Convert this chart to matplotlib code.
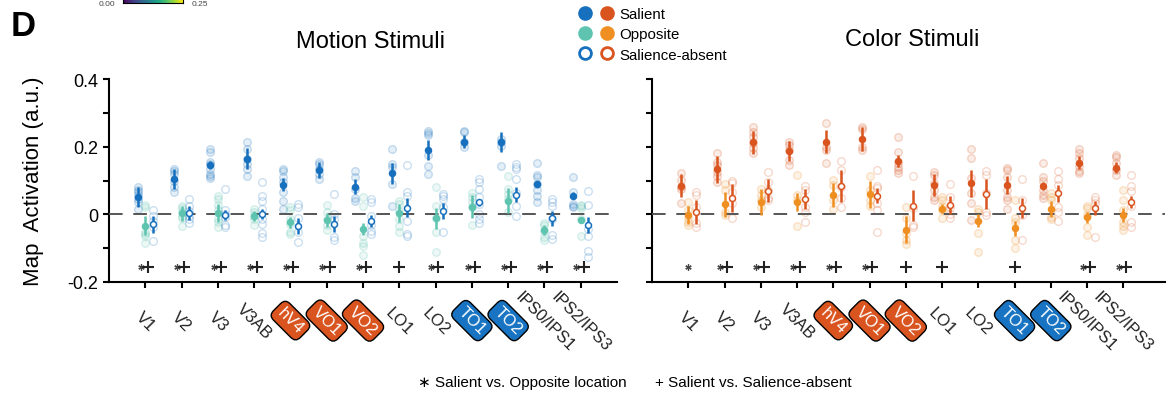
import numpy as np
import matplotlib.pyplot as plt
from matplotlib.lines import Line2D
from matplotlib.legend_handler import HandlerTuple
from matplotlib.transforms import blended_transform_factory

plt.rcParams['font.family'] = ['Liberation Sans', 'DejaVu Sans']

regions = ['V1', 'V2', 'V3', 'V3AB', 'hV4', 'VO1', 'VO2', 'LO1', 'LO2', 'TO1', 'TO2', 'IPS0/IPS1', 'IPS2/IPS3']
color_rois = ['hV4', 'VO1', 'VO2']
motion_rois = ['TO1', 'TO2']

# motion stimuli
mot_sal_mean = [0.052, 0.104, 0.146, 0.165, 0.088, 0.131, 0.082, 0.121, 0.190, 0.215, 0.213, 0.091, 0.055]
mot_sal_sem = [0.030, 0.030, 0.013, 0.032, 0.020, 0.025, 0.022, 0.032, 0.030, 0.020, 0.030, 0.006, 0.010]
mot_sal_subj = [
    [0.080, 0.073, 0.067, 0.057, 0.045, 0.037, 0.016],
    [0.134, 0.129, 0.119, 0.100, 0.080, 0.067],
    [0.193, 0.183, 0.156, 0.149, 0.134, 0.119, 0.112, 0.106],
    [0.215, 0.193, 0.164, 0.149, 0.134, 0.112],
    [0.134, 0.129, 0.110, 0.095, 0.065, 0.040, 0.016],
    [0.156, 0.149, 0.134, 0.119, 0.104],
    [0.129, 0.109, 0.075, 0.047, 0.040],
    [0.193, 0.149, 0.139, 0.090, 0.026],
    [0.247, 0.240, 0.234, 0.175, 0.144, 0.119],
    [0.247, 0.242, 0.213, 0.198],
    [0.223, 0.215, 0.203, 0.142],
    [0.152, 0.116, 0.110, 0.090, 0.073, 0.055, 0.035],
    [0.109, 0.067, 0.031, 0.026, 0.021],
]
mot_opp_mean = [-0.034, 0.003, 0.003, -0.004, -0.024, -0.017, -0.043, 0.004, -0.012, 0.023, 0.040, -0.047, -0.016]
mot_opp_sem = [0.028, 0.022, 0.027, 0.015, 0.017, 0.020, 0.018, 0.027, 0.030, 0.034, 0.037, 0.015, 0.007]
mot_opp_subj = [
    [0.028, 0.022, -0.053, -0.058, -0.063, -0.085],
    [0.024, 0.018, 0.008, -0.004, -0.012, -0.035],
    [0.053, 0.045, 0.028, 0.014, -0.014, -0.024, -0.038],
    [0.016, 0.008, -0.004, -0.014, -0.032],
    [0.021, 0.014, -0.014, -0.029, -0.053, -0.058],
    [0.028, 0.006, -0.014, -0.033, -0.045],
    [0.050, 0.024, -0.063, -0.085, -0.093, -0.120],
    [0.040, 0.031, 0.011, -0.014, -0.035, -0.051],
    [0.080, 0.026, -0.012, -0.053, -0.112],
    [0.063, 0.050, 0.035, 0.021, -0.033],
    [0.112, 0.075, 0.060, 0.045, 0.006],
    [-0.026, -0.033, -0.048, -0.068, -0.075],
    [0.028, 0.024, 0.018, -0.014, -0.065],
]
mot_abs_mean = [-0.030, 0.004, -0.002, 0.001, -0.034, -0.029, -0.019, 0.020, 0.010, 0.035, 0.058, -0.012, -0.032]
mot_abs_sem = [0.025, 0.021, 0.015, 0.014, 0.023, 0.024, 0.017, 0.028, 0.023, 0.011, 0.022, 0.023, 0.023]
mot_abs_subj = [
    [0.013, -0.004, -0.019, -0.038, -0.078],
    [0.045, 0.024, 0.011, -0.004, -0.014, -0.026],
    [0.075, 0.014, 0.001, -0.009, -0.032, -0.038],
    [0.097, 0.053, 0.040, 0.016, -0.014, -0.029, -0.055, -0.068],
    [0.031, 0.021, -0.012, -0.053, -0.081],
    [0.060, 0.001, -0.014, -0.068, -0.075],
    [0.045, 0.037, -0.006, -0.032, -0.048, -0.058],
    [0.146, 0.065, 0.055, -0.019, -0.058, -0.065],
    [0.060, 0.053, 0.045, 0.021, -0.053],
    [0.104, 0.095, 0.075, 0.050, 0.031, 0.001, -0.014, -0.026],
    [0.149, 0.139, 0.134, 0.104, 0.063, 0.024, -0.006],
    [0.045, 0.037, 0.024, -0.014, -0.061, -0.073],
    [0.070, 0.028, -0.043, -0.063, -0.107, -0.127],
]
mot_sig = ['*+', '*+', '*+', '*+', '*+', '*+', '*+', '+', '*+', '*+', '*+', '*+', '*+']

# color stimuli
col_sal_mean = [0.084, 0.133, 0.213, 0.188, 0.215, 0.223, 0.158, 0.087, 0.092, 0.087, 0.084, 0.153, 0.138]
col_sal_sem = [0.034, 0.040, 0.034, 0.030, 0.035, 0.035, 0.017, 0.032, 0.040, 0.026, 0.011, 0.019, 0.017]
col_sal_subj = [
    [0.123, 0.101, 0.080, 0.074, 0.033],
    [0.182, 0.156, 0.146, 0.126, 0.113, 0.097],
    [0.257, 0.244, 0.230, 0.210, 0.195, 0.182],
    [0.215, 0.205, 0.190, 0.161, 0.146],
    [0.269, 0.200, 0.190, 0.153],
    [0.259, 0.251, 0.200, 0.190],
    [0.228, 0.185, 0.151, 0.141, 0.131, 0.123],
    [0.126, 0.116, 0.092, 0.072, 0.052, 0.042],
    [0.192, 0.166, 0.106, 0.062, 0.033, -0.017],
    [0.136, 0.131, 0.111, 0.072, 0.052, 0.042, 0.015],
    [0.153, 0.111, 0.100, 0.072, 0.057, 0.047],
    [0.192, 0.182, 0.166, 0.143, 0.129, 0.121],
    [0.175, 0.169, 0.151, 0.131, 0.116],
]
col_opp_mean = [-0.002, 0.030, 0.037, 0.037, 0.057, 0.060, -0.046, 0.017, -0.019, -0.041, 0.015, -0.009, -0.002]
col_opp_sem = [0.027, 0.037, 0.038, 0.027, 0.036, 0.040, 0.040, 0.014, 0.019, 0.022, 0.023, 0.016, 0.020]
col_opp_subj = [
    [0.037, 0.013, -0.012, -0.022, -0.032],
    [0.090, 0.072, 0.008, -0.002],
    [0.074, 0.057, 0.042, 0.023],
    [0.116, 0.057, 0.042, -0.034],
    [0.101, 0.087, 0.042, 0.015],
    [0.113, 0.072, 0.042, 0.025],
    [0.023, -0.012, -0.056, -0.076, -0.088],
    [0.050, 0.042, 0.025, 0.013, -0.012],
    [0.015, 0.008, -0.056, -0.110],
    [0.042, -0.012, -0.022, -0.076, -0.100],
    [0.062, 0.050, 0.042, -0.009, -0.015],
    [0.025, 0.018, -0.002, -0.036, -0.061],
    [0.072, 0.042, 0.013, -0.022, -0.034, -0.046],
]
col_abs_mean = [0.006, 0.049, 0.070, 0.045, 0.084, 0.055, 0.025, 0.028, 0.060, 0.018, 0.062, 0.018, 0.037]
col_abs_sem = [0.035, 0.042, 0.033, 0.030, 0.047, 0.022, 0.046, 0.027, 0.045, 0.030, 0.026, 0.021, 0.017]
col_abs_subj = [
    [0.067, 0.057, 0.023, -0.025, -0.038],
    [0.100, 0.094, 0.067, 0.033, -0.012],
    [0.126, 0.097, 0.072, 0.047, 0.042],
    [0.084, 0.072, 0.023, 0.008, -0.022],
    [0.159, 0.131, 0.082, 0.047, 0.023],
    [0.131, 0.084, 0.077, 0.033, 0.013, -0.051],
    [0.113, 0.018, -0.032, -0.036],
    [0.090, 0.052, 0.023, 0.001, -0.012],
    [0.129, 0.116, 0.062, 0.008, -0.002],
    [0.103, 0.042, -0.002, -0.076],
    [0.129, 0.103, 0.087, 0.023, 0.008, -0.019],
    [0.050, 0.042, 0.033, -0.066],
    [0.116, 0.084, 0.070, 0.025, -0.022, -0.036],
]
col_sig = ['*', '*+', '*+', '*+', '*+', '*+', '+', '+', '', '+', '', '*+', '*+']

blue = '#1770bd'
teal = '#5ec4b0'
red = '#d9541e'
orange = '#ef8f22'


def panel(ax, means, sems, subjs, cols, sig, xmax):
    offs = [-0.21, 0.0, 0.21]
    x = np.arange(1, len(regions) + 1)
    for k in range(3):
        c = cols[k]
        for i in range(len(regions)):
            pts = subjs[k][i]
            fc = 'none' if k == 2 else (c + '1c')
            ax.plot([x[i] + offs[k]] * len(pts), pts, 'o', ms=5.5, mfc=fc, mec=c + '38',
                    mew=1.0, zorder=2)
    ax.axhline(0, color='#555555', lw=1.4, ls=(0, (7, 5.5)), zorder=3)
    for k in range(3):
        c = cols[k]
        ax.errorbar(x + offs[k], means[k], yerr=sems[k], fmt='o', ms=4.3, color=c, ecolor=c,
                    elinewidth=1.8, mfc='white' if k == 2 else c, mec=c, mew=1.1, zorder=4)
    # significance marks
    for i, s in enumerate(sig):
        if s == '*+':
            ax.plot(x[i] - 0.12, -0.156, marker=(6, 2, 0), ms=4.5, color='#444444', mew=0.9)
            ax.plot(x[i] + 0.08, -0.157, marker='+', ms=8, color='#222222', mew=1.5)
        elif s == '*':
            ax.plot(x[i], -0.156, marker=(6, 2, 0), ms=4.5, color='#444444', mew=0.9)
        elif s == '+':
            ax.plot(x[i], -0.157, marker='+', ms=8, color='#222222', mew=1.5)

    ax.set_xlim(0, xmax)
    ax.set_ylim(-0.2, 0.4)
    ax.set_xticks(x)
    ax.set_xticklabels([])
    ax.set_yticks([-0.2, -0.1, 0, 0.1, 0.2, 0.3, 0.4])
    for sp in ['top', 'right']:
        ax.spines[sp].set_visible(False)
    for sp in ['left', 'bottom']:
        ax.spines[sp].set_linewidth(1.5)
    ax.tick_params(direction='out', length=4, width=1.5, labelsize=13)

    tr = blended_transform_factory(ax.transData, ax.transAxes)
    for i, lab in enumerate(regions):
        kw = dict(rotation=-45, ha='center', va='center', rotation_mode='anchor',
                  transform=tr, fontsize=12)
        if lab in color_rois or lab in motion_rois:
            fc = red if lab in color_rois else '#1874c2'
            ax.text(x[i], -0.19, lab, color='white', clip_on=False,
                    bbox=dict(boxstyle='round,pad=0.25,rounding_size=0.4', fc=fc, ec='black', lw=1), **kw)
        else:
            ax.text(x[i], -0.19, lab, color='#222222', **kw)


fig = plt.figure(figsize=(11.67, 4.02), dpi=100)
W, H = 1167, 402
ax1 = fig.add_axes([109 / W, 1 - 283 / H, 508 / W, 203 / H])
ax2 = fig.add_axes([652 / W, 1 - 283 / H, 513 / W, 203 / H])

panel(ax1, [mot_sal_mean, mot_opp_mean, mot_abs_mean], [mot_sal_sem, mot_opp_sem, mot_abs_sem],
      [mot_sal_subj, mot_opp_subj, mot_abs_subj], [blue, teal, blue], mot_sig, 14)
panel(ax2, [col_sal_mean, col_opp_mean, col_abs_mean], [col_sal_sem, col_opp_sem, col_abs_sem],
      [col_sal_subj, col_opp_subj, col_abs_subj], [red, orange, red], col_sig, 14.15)

ax1.set_yticklabels(['-0.2', '', '0', '', '0.2', '', '0.4'])
ax2.set_yticklabels([])
ax1.set_ylabel('Map  Activation (a.u.)', fontsize=16)
ax1.yaxis.set_label_coords(-0.128, 0.5)

fig.text(370 / W, 1 - 42 / H, 'Motion Stimuli', fontsize=17, ha='center', va='center')
fig.text(912 / W, 1 - 40 / H, 'Color Stimuli', fontsize=17, ha='center', va='center')
fig.text(11 / W, 1 - 27 / H, 'D', fontsize=25, fontweight='bold', va='center')

# legend with two marker columns
h_sal = (Line2D([], [], ls='', marker='o', ms=9.5, color=blue), Line2D([], [], ls='', marker='o', ms=9.5, color=red))
h_opp = (Line2D([], [], ls='', marker='o', ms=9.5, color=teal), Line2D([], [], ls='', marker='o', ms=9.5, color=orange))
h_abs = (Line2D([], [], ls='', marker='o', ms=8.5, mfc='white', mec=blue, mew=2),
         Line2D([], [], ls='', marker='o', ms=8.5, mfc='white', mec=red, mew=2))
fig.legend([h_sal, h_opp, h_abs], ['Salient', 'Opposite', 'Salience-absent'],
           handler_map={tuple: HandlerTuple(ndivide=None, pad=0.55)},
           loc='upper left', bbox_to_anchor=(578 / W, 1 - 8 / H), frameon=False,
           fontsize=10.8, handlelength=2.4, handletextpad=0.35, labelspacing=0.42,
           borderaxespad=0, borderpad=0)

fig.text(418 / W, 1 - 383 / H, '\u2217 Salient vs. Opposite location', fontsize=11, va='center')
fig.text(655 / W, 1 - 383 / H, '+ Salient vs. Salience-absent', fontsize=11, va='center')

# colorbar remnant from the panel above
cax = fig.add_axes([123 / W, 1 - 4 / H, 60 / W, 12 / H])
cax.imshow(np.linspace(0, 1, 256)[None, :], aspect='auto', cmap='viridis')
cax.set_xticks([])
cax.set_yticks([])
fig.text(107 / W, 1 - 1 / H, '0.00', fontsize=6, ha='center', va='top', color='#444444')
fig.text(200 / W, 1 - 1 / H, '0.25', fontsize=6, ha='center', va='top', color='#444444')

fig.savefig('out.png', dpi=100)
